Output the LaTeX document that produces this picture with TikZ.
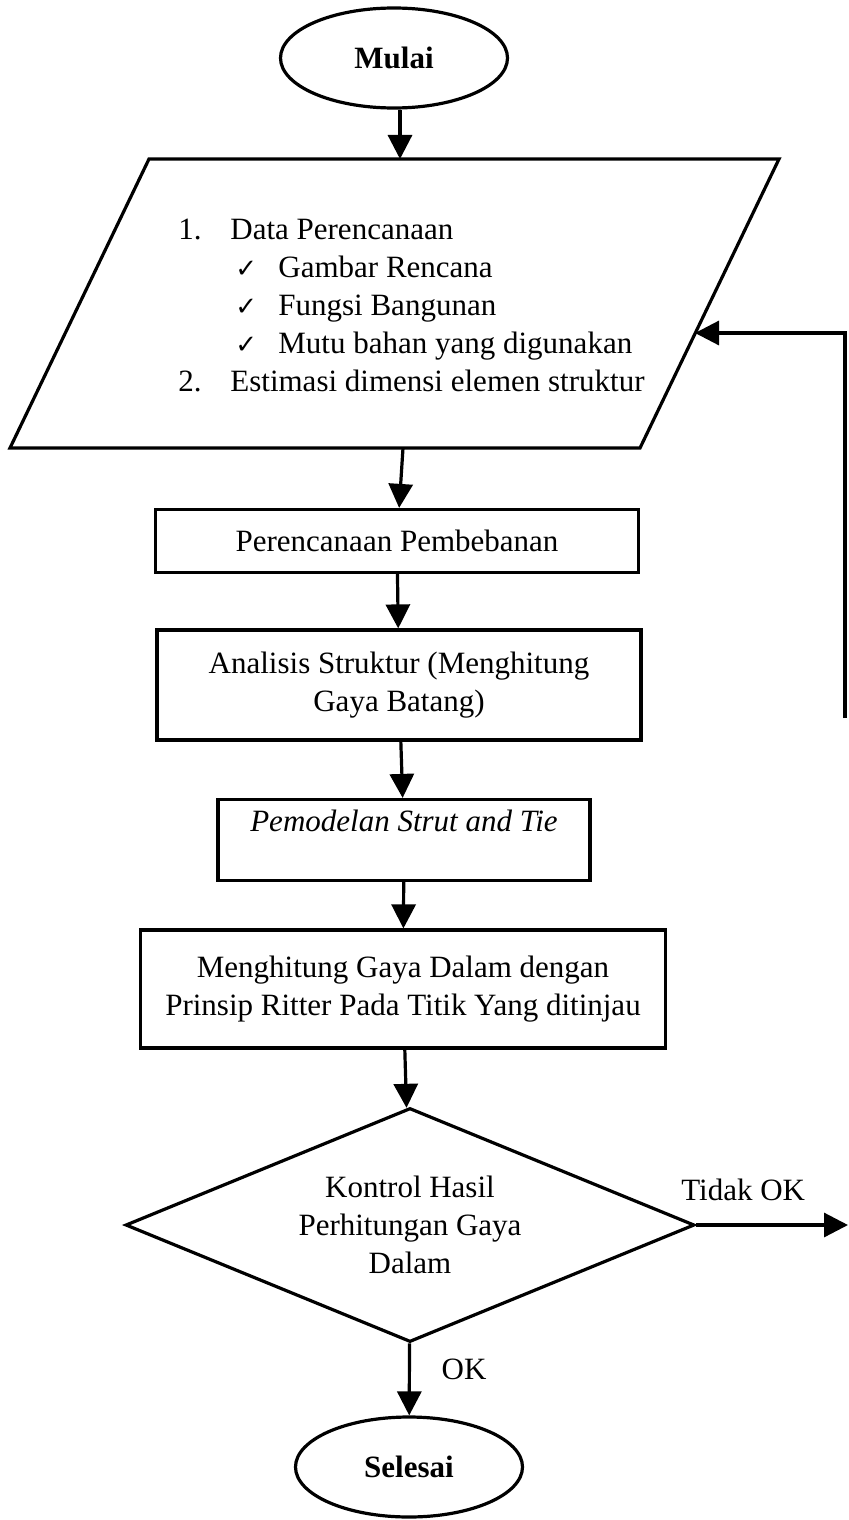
\documentclass[tikz,border=0pt]{standalone}
\usepackage{fontspec}
\setmainfont{Liberation Serif}
\newfontfamily\checkfont{DejaVu Sans}
\usetikzlibrary{arrows.meta,shapes.geometric}

\begin{document}
\begin{tikzpicture}[x=0.5pt,y=-0.5pt,font=\fontsize{15.5}{19}\selectfont,
 box/.style={draw,line width=1.6pt,align=center,inner sep=2pt},
 term/.style={draw,ellipse,line width=1.6pt,minimum width=113.5pt,minimum height=50pt,font=\fontsize{15.5}{19}\selectfont\bfseries},
 flow/.style={->,line width=1.6pt},
 >={Triangle[length=12pt,width=12pt]}]
\useasboundingbox (0,0) rectangle (848,1520);
\node[term] (mulai) at (394,58) {Mulai};
% parallelogram corners
\coordinate (dtl) at (149,159);\coordinate (dtr) at (779,159);
\coordinate (dbr) at (640,448);\coordinate (dbl) at (10,448);
\draw[line width=1.6pt] (dtl)--(dtr)--(dbr)--(dbl)--cycle;
\node[anchor=west,align=left,inner sep=0pt] (data) at (178,305)
 {\makebox[26pt][l]{1.}Data Perencanaan\\
  \hspace*{28.5pt}\makebox[21.5pt][l]{\checkfont\fontsize{13}{19}\selectfont ✓}Gambar Rencana\\
  \hspace*{28.5pt}\makebox[21.5pt][l]{\checkfont\fontsize{13}{19}\selectfont ✓}Fungsi Bangunan\\
  \hspace*{28.5pt}\makebox[21.5pt][l]{\checkfont\fontsize{13}{19}\selectfont ✓}Mutu bahan yang digunakan\\
  \makebox[26pt][l]{2.}Estimasi dimensi elemen struktur};
\coordinate (datain) at (400,159);\coordinate (dataout) at (403,448);
\coordinate (fbend) at (695,333);\coordinate (fbstart) at (845,718);
\node[box,minimum width=241.5pt,minimum height=31.5pt] (beban) at (397,541) {Perencanaan Pembebanan};
\node[box,minimum width=242pt,minimum height=55pt] (analisis) at (399,685) {Analisis Struktur (Menghitung\\Gaya Batang)};
\node[box,minimum width=186pt,minimum height=40.5pt] (model) at (404,840) {\itshape Pemodelan Strut and Tie\\\mbox{}};
\node[box,minimum width=262.5pt,minimum height=59pt] (gaya) at (403,989) {Menghitung Gaya Dalam dengan\\Prinsip Ritter Pada Titik Yang ditinjau};
\node[box,diamond,aspect=2.43,inner sep=0pt,minimum width=284.5pt,minimum height=117pt] (kontrol) at (410,1225) {Kontrol Hasil\\Perhitungan Gaya\\Dalam};
\node[term] (selesai) at (409,1467) {Selesai};
\coordinate (tidak) at (848,1225);
\draw[flow] (mulai.south -| datain)--(datain);
\draw[flow] (dataout)--(beban);
\draw[flow] (beban)--(analisis);\draw[flow] (analisis)--(model);
\draw[flow] (model)--(gaya);\draw[flow] (gaya)--(kontrol);
\draw[flow] (kontrol)--node[right,xshift=12pt,yshift=5pt]{OK}(selesai);
\draw[flow] (kontrol.east)--node[above,pos=.31,yshift=8pt]{Tidak OK}(tidak);
\draw[flow] (fbstart)|-(fbend);
\end{tikzpicture}
\end{document}
